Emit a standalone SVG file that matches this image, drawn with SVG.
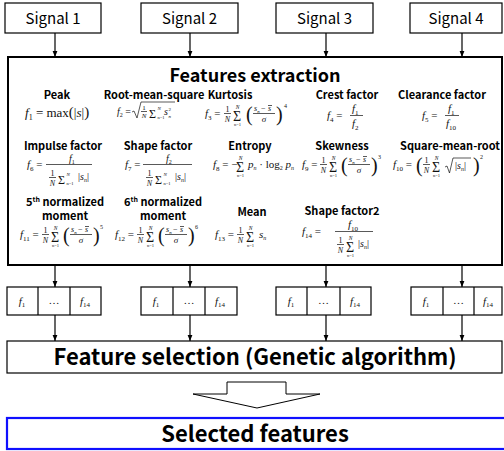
<svg xmlns="http://www.w3.org/2000/svg" xmlns:xlink="http://www.w3.org/1999/xlink" width="504" height="451" viewBox="0 0 504 451" font-size="11">
<style>
.box{fill:#fff;stroke:#000;stroke-width:1.2}
.thick{stroke-width:2}
.sans{font-family:"Noto Sans CJK KR","Noto Sans",sans-serif;fill:#000}
.sig{font-size:15px;text-anchor:middle}
.title{font-size:18px;font-weight:bold;text-anchor:middle}
.hdr{font-size:11px;font-weight:bold;text-anchor:middle}
.big{font-size:22px;font-weight:bold;text-anchor:middle}
.m{font-family:"Liberation Serif","Times New Roman",serif;fill:#111}
.i{font-style:italic}
.c{text-anchor:middle}
.fr{stroke:#111;stroke-width:0.7;fill:none}
.con{stroke:#000;stroke-width:1.2;fill:none}
</style>
<defs>
<marker id="ah" viewBox="0 0 10 10" refX="10" refY="5" markerWidth="6" markerHeight="6" markerUnits="userSpaceOnUse" orient="auto"><path d="M0,1 L10,5 L0,9 z" fill="#000"/></marker>
<g id="oneN"><text class="m c" x="3.5" y="-5.5" font-size="8">1</text><line class="fr" x1="0" y1="-3.5" x2="7" y2="-3.5"/><text class="m c i" x="3.5" y="5" font-size="8">N</text></g>
<g id="sumD"><text class="m" x="0" y="3.5" font-size="14">Σ</text><text class="m c i" x="4.5" y="-8" font-size="5.5">N</text><text class="m c" x="4.5" y="9" font-size="4.5">n=1</text></g>
<g id="sumI"><text class="m" x="0" y="2.5" font-size="12">Σ</text><text class="m i" x="8.5" y="-5" font-size="5">N</text><text class="m" x="8.5" y="3.5" font-size="4.5">n=1</text></g>
<g id="zf"><text class="m" x="0" y="4" font-size="20">(</text><text class="m i" x="8" y="-6" font-size="8">s</text><text class="m i" x="11.3" y="-4.5" font-size="5">n</text><text class="m" x="15" y="-6" font-size="8">−</text><text class="m i" x="22" y="-6" font-size="8">s</text><line class="fr" x1="22" y1="-11.5" x2="26" y2="-11.5"/><line class="fr" x1="7" y1="-3.5" x2="29" y2="-3.5"/><text class="m c i" x="18" y="5" font-size="9">σ</text><text class="m" x="30" y="4" font-size="20">)</text></g>
<g id="absSn"><text class="m" x="0" y="0" font-size="10">|<tspan class="i">s</tspan><tspan class="i" font-size="6" dy="2">n</tspan><tspan dy="-2">|</tspan></text></g>
</defs>

<g id="signal1"><rect class="box" x="5" y="3" width="96" height="30"/><text class="sans sig" x="53" y="24">Signal 1</text></g>
<g id="signal2"><rect class="box" x="141" y="3" width="97" height="30"/><text class="sans sig" x="189.5" y="24">Signal 2</text></g>
<g id="signal3"><rect class="box" x="276" y="3" width="97" height="30"/><text class="sans sig" x="324.5" y="24">Signal 3</text></g>
<g id="signal4"><rect class="box" x="410" y="3" width="92" height="30"/><text class="sans sig" x="456" y="24">Signal 4</text></g>

<g id="features-extraction">
<rect class="box thick" x="8" y="57" width="494" height="208"/>
<text class="sans title" x="255" y="82">Features extraction</text>
<g class="sans hdr">
<text x="57" y="99">Peak</text>
<text x="154" y="99">Root-mean-square</text>
<text x="230" y="99">Kurtosis</text>
<text x="347" y="99">Crest factor</text>
<text x="442" y="99">Clearance factor</text>
<text x="63" y="150">Impulse factor</text>
<text x="158" y="150">Shape factor</text>
<text x="250" y="150">Entropy</text>
<text x="342" y="150">Skewness</text>
<text x="450" y="150">Square-mean-root</text>
<text x="65" y="206">5<tspan style="font-size:7px" dy="-4">th</tspan><tspan dy="4"> normalized</tspan></text>
<text x="65" y="220">moment</text>
<text x="163" y="206">6<tspan style="font-size:7px" dy="-4">th</tspan><tspan dy="4"> normalized</tspan></text>
<text x="163" y="220">moment</text>
<text x="252" y="216">Mean</text>
<text x="342" y="215">Shape factor2</text>
</g>

<!-- f1 -->
<g transform="translate(25,117)"><text class="m" font-size="13"><tspan class="i">f</tspan><tspan font-size="8" dy="2.5">1</tspan><tspan dy="-2.5"> = max</tspan><tspan font-size="15">(</tspan>|<tspan class="i">s</tspan>|<tspan font-size="15">)</tspan></text></g>
<!-- f2 -->
<g transform="translate(117,115)">
<text class="m" font-size="10"><tspan class="i">f</tspan><tspan font-size="6" dy="2">2</tspan><tspan dy="-2"> =</tspan></text>
<polyline class="fr" points="15,-3 17,-4 20,3 24,-13 58,-13"/>
<text class="m c" x="27" y="-5.5" font-size="7">1</text><line class="fr" x1="24" y1="-3.5" x2="30" y2="-3.5"/><text class="m c i" x="27" y="3" font-size="7">N</text>
<use xlink:href="#sumI" x="32" y="0"/>
<text class="m i" x="47" y="0" font-size="10">s</text><text class="m" x="51.5" y="-4" font-size="5">2</text><text class="m i" x="51.5" y="2.5" font-size="5">n</text>
</g>
<!-- f3 -->
<g transform="translate(205,117)">
<text class="m"><tspan class="i">f</tspan><tspan font-size="7" dy="2.5">3</tspan><tspan dy="-2.5"> =</tspan></text>
<use xlink:href="#oneN" x="19"/><use xlink:href="#sumD" x="28"/><use xlink:href="#zf" x="41"/>
<text class="m" x="79" y="-9" font-size="6">4</text>
</g>
<!-- f4 -->
<g transform="translate(327,119)">
<text class="m"><tspan class="i">f</tspan><tspan font-size="7" dy="2.5">4</tspan><tspan dy="-2.5"> =</tspan></text>
<text class="m i" x="25" y="-7">f<tspan font-size="7" dy="2.5" font-style="normal">1</tspan></text>
<line class="fr" x1="23" y1="-3.5" x2="36" y2="-3.5"/>
<text class="m i" x="25" y="8">f<tspan font-size="7" dy="2.5" font-style="normal">2</tspan></text>
</g>
<!-- f5 -->
<g transform="translate(422,119)">
<text class="m"><tspan class="i">f</tspan><tspan font-size="7" dy="2.5">5</tspan><tspan dy="-2.5"> =</tspan></text>
<text class="m i" x="26" y="-7">f<tspan font-size="7" dy="2.5" font-style="normal">1</tspan></text>
<line class="fr" x1="23" y1="-3.5" x2="37" y2="-3.5"/>
<text class="m i" x="24" y="8">f<tspan font-size="7" dy="2.5" font-style="normal">10</tspan></text>
</g>

<!-- f6 -->
<g transform="translate(27,168)">
<text class="m"><tspan class="i">f</tspan><tspan font-size="7" dy="2.5">6</tspan><tspan dy="-2.5"> =</tspan></text>
<text class="m i" x="42" y="-6" font-size="10">f<tspan font-size="6" dy="2" font-style="normal">1</tspan></text>
<line class="fr" x1="19" y1="-3.5" x2="65" y2="-3.5"/>
<g transform="translate(0,13)"><use xlink:href="#oneN" x="22"/><use xlink:href="#sumI" x="31"/><use xlink:href="#absSn" x="51" y="-1"/></g>
</g>
<!-- f7 -->
<g transform="translate(125,168)">
<text class="m"><tspan class="i">f</tspan><tspan font-size="7" dy="2.5">7</tspan><tspan dy="-2.5"> =</tspan></text>
<text class="m i" x="41" y="-6" font-size="10">f<tspan font-size="6" dy="2" font-style="normal">2</tspan></text>
<line class="fr" x1="18" y1="-3.5" x2="67" y2="-3.5"/>
<g transform="translate(0,13)"><use xlink:href="#oneN" x="21"/><use xlink:href="#sumI" x="30"/><use xlink:href="#absSn" x="50" y="-1"/></g>
</g>
<!-- f8 -->
<g transform="translate(213,168)">
<text class="m"><tspan class="i">f</tspan><tspan font-size="7" dy="2.5">8</tspan><tspan dy="-2.5"> = −</tspan></text>
<use xlink:href="#sumD" x="23"/>
<text class="m" x="35" y="0"><tspan class="i">p</tspan><tspan class="i" font-size="6" dy="2">n</tspan><tspan dy="-2"> · log</tspan><tspan font-size="6" dy="2">2</tspan><tspan class="i" dy="-2"> p</tspan><tspan class="i" font-size="6" dy="2">n</tspan></text>
</g>
<!-- f9 -->
<g transform="translate(302,168)">
<text class="m"><tspan class="i">f</tspan><tspan font-size="7" dy="2.5">9</tspan><tspan dy="-2.5"> =</tspan></text>
<use xlink:href="#oneN" x="18"/><use xlink:href="#sumD" x="27"/><use xlink:href="#zf" x="39"/>
<text class="m" x="76" y="-9" font-size="6">3</text>
</g>
<!-- f10 -->
<g transform="translate(393,168)">
<text class="m"><tspan class="i">f</tspan><tspan font-size="7" dy="2.5">10</tspan><tspan dy="-2.5"> =</tspan></text>
<text class="m" x="23" y="4" font-size="20">(</text>
<use xlink:href="#oneN" x="30"/><use xlink:href="#sumD" x="39"/>
<polyline class="fr" points="52,-1 54,-2 56.5,5 60,-10 78,-10"/>
<use xlink:href="#absSn" x="62" y="1"/>
<text class="m" x="80" y="4" font-size="20">)</text>
<text class="m" x="87" y="-9" font-size="6">2</text>
</g>

<!-- f11 -->
<g transform="translate(20,238)">
<text class="m"><tspan class="i">f</tspan><tspan font-size="7" dy="2.5">11</tspan><tspan dy="-2.5"> =</tspan></text>
<use xlink:href="#oneN" x="22"/><use xlink:href="#sumD" x="31"/><use xlink:href="#zf" x="43"/>
<text class="m" x="80" y="-9" font-size="6">5</text>
</g>
<!-- f12 -->
<g transform="translate(115,238)">
<text class="m"><tspan class="i">f</tspan><tspan font-size="7" dy="2.5">12</tspan><tspan dy="-2.5"> =</tspan></text>
<use xlink:href="#oneN" x="22"/><use xlink:href="#sumD" x="31"/><use xlink:href="#zf" x="43"/>
<text class="m" x="80" y="-9" font-size="6">6</text>
</g>
<!-- f13 -->
<g transform="translate(215,238)">
<text class="m"><tspan class="i">f</tspan><tspan font-size="7" dy="2.5">13</tspan><tspan dy="-2.5"> =</tspan></text>
<use xlink:href="#oneN" x="22"/><use xlink:href="#sumD" x="31"/>
<text class="m" x="44" y="0"><tspan class="i">s</tspan><tspan class="i" font-size="6" dy="2">n</tspan></text>
</g>
<!-- f14 -->
<g transform="translate(302,235)">
<text class="m"><tspan class="i">f</tspan><tspan font-size="7" dy="2.5">14</tspan><tspan dy="-2.5"> =</tspan></text>
<text class="m i" x="46" y="-7">f<tspan font-size="7" dy="2.5" font-style="normal">10</tspan></text>
<line class="fr" x1="33" y1="-3.5" x2="71" y2="-3.5"/>
<g transform="translate(0,13)"><use xlink:href="#oneN" x="35"/><use xlink:href="#sumD" x="44"/><use xlink:href="#absSn" x="56" y="-1"/></g>
</g>
</g>

<g id="fvec1"><rect class="box" x="7" y="287" width="94" height="28"/><line class="con" x1="38" y1="287" x2="38" y2="315"/><line class="con" x1="70" y1="287" x2="70" y2="315"/>
<text class="m i c" x="22" y="305">f<tspan font-style="normal" font-size="7" dy="2">1</tspan></text><text class="m c" x="54" y="304" fill="#666">…</text><text class="m i c" x="85" y="305">f<tspan font-style="normal" font-size="7" dy="2">14</tspan></text></g>
<g id="fvec2"><rect class="box" x="141" y="287" width="96" height="28"/><line class="con" x1="173" y1="287" x2="173" y2="315"/><line class="con" x1="205" y1="287" x2="205" y2="315"/>
<text class="m i c" x="156" y="305">f<tspan font-style="normal" font-size="7" dy="2">1</tspan></text><text class="m c" x="189" y="304" fill="#666">…</text><text class="m i c" x="220" y="305">f<tspan font-style="normal" font-size="7" dy="2">14</tspan></text></g>
<g id="fvec3"><rect class="box" x="276" y="287" width="95" height="28"/><line class="con" x1="307" y1="287" x2="307" y2="315"/><line class="con" x1="340" y1="287" x2="340" y2="315"/>
<text class="m i c" x="291" y="305">f<tspan font-style="normal" font-size="7" dy="2">1</tspan></text><text class="m c" x="323.5" y="304" fill="#666">…</text><text class="m i c" x="355" y="305">f<tspan font-style="normal" font-size="7" dy="2">14</tspan></text></g>
<g id="fvec4"><rect class="box" x="411" y="287" width="91" height="28"/><line class="con" x1="443" y1="287" x2="443" y2="315"/><line class="con" x1="474" y1="287" x2="474" y2="315"/>
<text class="m i c" x="426" y="305">f<tspan font-style="normal" font-size="7" dy="2">1</tspan></text><text class="m c" x="458.5" y="304" fill="#666">…</text><text class="m i c" x="488" y="305">f<tspan font-style="normal" font-size="7" dy="2">14</tspan></text></g>

<g id="feature-selection"><rect class="box" x="7" y="341" width="495" height="32" stroke-width="1.5"/><text class="sans big" x="255" y="365">Feature selection (Genetic algorithm)</text></g>

<g id="selected-features"><rect x="7" y="418" width="500" height="31" fill="#fff" stroke="#1010ff" stroke-width="2.2"/><text class="sans big" x="255" y="442">Selected features</text></g>

<g id="connectors">
<line class="con" x1="55" y1="33" x2="55" y2="57" marker-end="url(#ah)"/>
<line class="con" x1="190" y1="33" x2="190" y2="57" marker-end="url(#ah)"/>
<line class="con" x1="326" y1="33" x2="326" y2="57" marker-end="url(#ah)"/>
<line class="con" x1="462" y1="33" x2="462" y2="57" marker-end="url(#ah)"/>
<line class="con" x1="55" y1="266" x2="55" y2="287" marker-end="url(#ah)"/>
<line class="con" x1="190" y1="266" x2="190" y2="287" marker-end="url(#ah)"/>
<line class="con" x1="326" y1="266" x2="326" y2="287" marker-end="url(#ah)"/>
<line class="con" x1="462" y1="266" x2="462" y2="287" marker-end="url(#ah)"/>
<line class="con" x1="55" y1="315" x2="55" y2="341" marker-end="url(#ah)"/>
<line class="con" x1="190" y1="315" x2="190" y2="341" marker-end="url(#ah)"/>
<line class="con" x1="326" y1="315" x2="326" y2="341" marker-end="url(#ah)"/>
<line class="con" x1="462" y1="315" x2="462" y2="341" marker-end="url(#ah)"/>
<polygon points="227,382 286,382 286,394 320,394 257,408 193,394 227,394" fill="#fff" stroke="#000" stroke-width="1"/>
</g>
</svg>
